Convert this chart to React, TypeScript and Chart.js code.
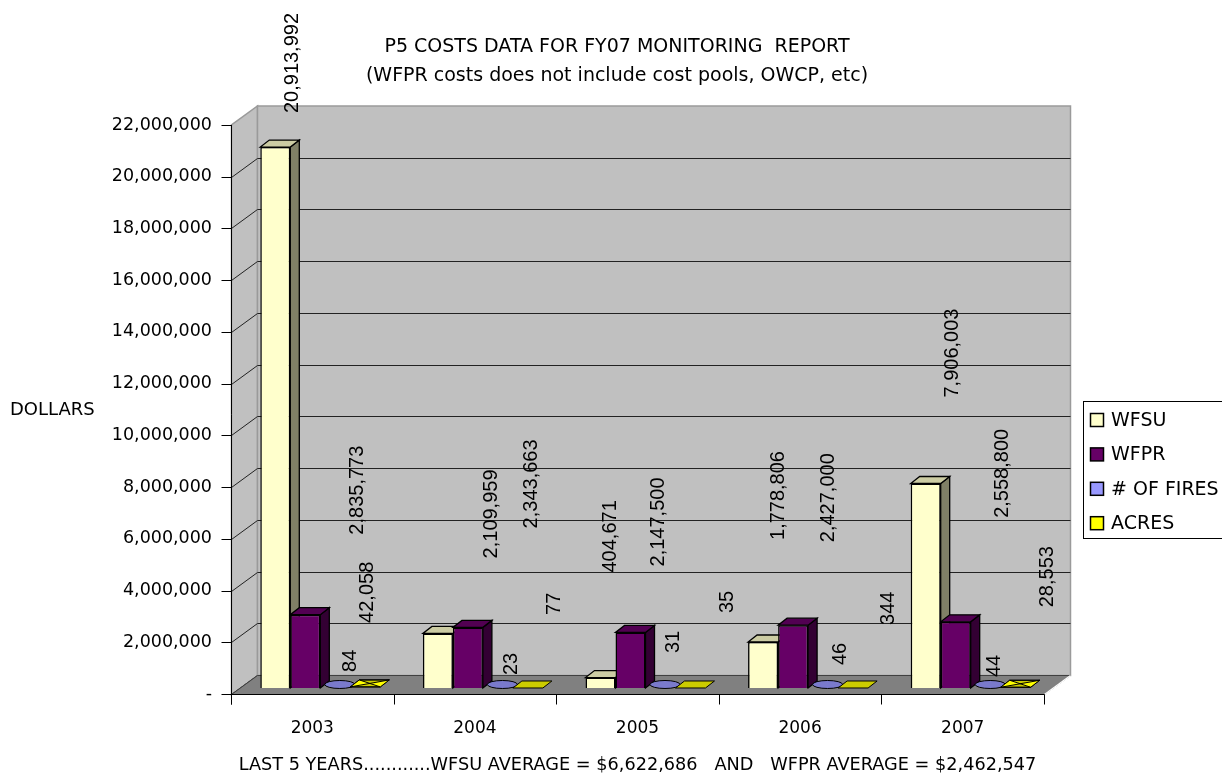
import React, { useEffect, useRef } from 'react';
import { Chart, registerables } from 'chart.js';

Chart.register(...registerables);

// ---- data ----
const years = ['2003', '2004', '2005', '2006', '2007'];
const wfsuCosts = [20913992, 2109959, 404671, 1778806, 7906003];
const wfprCosts = [2835773, 2343663, 2147500, 2427000, 2558800];
const fireCounts = [84, 23, 31, 46, 44];
const acresBurned = [42058, 77, 35, 344, 28553];
const seriesNames = ['WFSU', 'WFPR', '# OF FIRES', 'ACRES'];
const dollarMax = 22000000;
const dollarStep = 2000000;

const titleLines = [
  'P5 COSTS DATA FOR FY07 MONITORING  REPORT',
  '(WFPR costs does not include cost pools, OWCP, etc)',
];
const footerText =
  'LAST 5 YEARS............WFSU AVERAGE = $6,622,686   AND   WFPR AVERAGE = $2,462,547';
const valueAxisName = 'DOLLARS';

// ---- styling ----
const FRONT = ['#FFFFCC', '#660066', '#9999FF', '#FFFF00'];
const TOP = ['#CCCCA3', '#520052', '#7A7ACC', '#CCCC00'];
const SIDE = ['#808066', '#330033', '#4D4D80', '#808000'];
const WALL = '#C0C0C0';
const FLOOR = '#808080';
const CASUAL = '"DejaVu Sans", Verdana, sans-serif';
const VALUE_FONT = '20px "Liberation Sans", Arial, sans-serif';

// oblique projection offsets
const WALL_DEPTH = { dx: 26, dy: -19 };
const BAR_PLANE = { dx: 8, dy: -6 };
const BAR_DEPTH = { dx: 9, dy: -7 };

// where each value label sits relative to the top centre of its bar
const labelNudge = [
  [[17, -34], [54, -75], [10, -105], [15, -102], [27, -86]],
  [[52, -80], [64, -99], [28, -66], [35, -83], [47, -104]],
  [[15, -16], [14, -13], [13, -35], [17, -23], [9, -11]],
  [[2, -64], [27, -73], [37, -75], [35, -63], [32, -80]],
];

type Pt = [number, number];

function poly(ctx: CanvasRenderingContext2D, pts: Pt[], fill?: string, stroke?: string, lw = 1) {
  ctx.beginPath();
  pts.forEach(([px, py], i) => (i === 0 ? ctx.moveTo(px, py) : ctx.lineTo(px, py)));
  ctx.closePath();
  if (fill) {
    ctx.fillStyle = fill;
    ctx.fill();
  }
  if (stroke) {
    ctx.strokeStyle = stroke;
    ctx.lineWidth = lw;
    ctx.stroke();
  }
}

function seg(ctx: CanvasRenderingContext2D, x1: number, y1: number, x2: number, y2: number, color: string, lw = 1) {
  ctx.beginPath();
  ctx.moveTo(x1, y1);
  ctx.lineTo(x2, y2);
  ctx.strokeStyle = color;
  ctx.lineWidth = lw;
  ctx.stroke();
}

const barProps = (el: any) => el.getProps(['x', 'y', 'base', 'width'], true);

const excel3d = {
  id: 'excel3d',
  beforeDatasetsDraw(chart: any) {
    const { ctx, chartArea: a, scales } = chart;
    const ys = scales.y;
    const xs = scales.x;
    const { dx, dy } = WALL_DEPTH;
    const L = Math.round(a.left) + 0.5;
    const R = Math.round(a.right) + 0.5;
    const T = a.top;
    const B = Math.round(a.bottom) + 0.5;

    ctx.save();
    // walls
    poly(ctx, [[L, T], [L + dx, T + dy], [L + dx, B + dy], [L, B]], WALL, '#9a9a9a', 1.5);
    poly(ctx, [[L + dx, T + dy], [R + dx, T + dy], [R + dx, B + dy], [L + dx, B + dy]], WALL, '#9a9a9a', 1.5);

    // gridlines on back and side walls, tick marks on the front axis
    ys.ticks.forEach((t: any) => {
      const py = Math.round(ys.getPixelForValue(t.value)) + 0.5;
      seg(ctx, L - 10, py, L, py, '#000');
      if (t.value >= dollarMax) return;
      if (t.value > 0) seg(ctx, L + dx, py + dy, R + dx, py + dy, '#222');
      seg(ctx, L, py, L + dx, py + dy, '#222');
    });

    // floor
    poly(ctx, [[L, B], [R, B], [R + dx, B + dy], [L + dx, B + dy]], FLOOR, '#404040', 1);
    seg(ctx, R, B, R + dx, B + dy, '#ffffff', 1.5);

    // front axes
    seg(ctx, L, T, L, B + 10, '#000');
    seg(ctx, L, B, R, B, '#000');
    const step = xs.getPixelForValue(1) - xs.getPixelForValue(0);
    for (let i = 0; i <= years.length; i++) {
      const bx = Math.round(xs.getPixelForValue(0) - step / 2 + step * i) + 0.5;
      seg(ctx, bx, B, bx, B + 10, '#000');
    }
    ctx.restore();

    // bars live a little behind the front plane
    ctx.save();
    ctx.translate(BAR_PLANE.dx, BAR_PLANE.dy);
    const n = years.length;
    for (let i = 0; i < n; i++) {
      for (let s = 0; s < 2; s++) {
        const el = chart.getDatasetMeta(s).data[i];
        if (!el) continue;
        const { x, y, base, width } = barProps(el);
        const l = x - width / 2;
        const r = x + width / 2;
        const { dx: bx, dy: by } = BAR_DEPTH;
        poly(ctx, [[r, y], [r + bx, y + by], [r + bx, base + by], [r, base]], SIDE[s], '#000', 1.3);
        poly(ctx, [[l, y], [r, y], [r + bx, y + by], [l + bx, y + by]], TOP[s], '#000', 1.3);
      }
    }
  },
  afterDatasetsDraw(chart: any) {
    const { ctx } = chart;
    const { dx: bx, dy: by } = BAR_DEPTH;
    // fire counts: flat cylinders seen from above
    chart.getDatasetMeta(2).data.forEach((el: any) => {
      const { x, y, width } = barProps(el);
      ctx.beginPath();
      ctx.ellipse(x + bx / 2, y + by / 2, width / 2, Math.abs(by) / 2 + 0.5, 0, 0, Math.PI * 2);
      ctx.fillStyle = TOP[2];
      ctx.fill();
      ctx.strokeStyle = '#000';
      ctx.lineWidth = 1;
      ctx.stroke();
    });
    // acres: flat boxes
    chart.getDatasetMeta(3).data.forEach((el: any) => {
      const { x, y, base, width } = barProps(el);
      const l = x - width / 2;
      const r = x + width / 2;
      const A: Pt = [l, y];
      const Bp: Pt = [r, y];
      const C: Pt = [r + bx, y + by];
      const D: Pt = [l + bx, y + by];
      poly(ctx, [A, Bp, C, D], TOP[3], '#000', 1);
      if (base - y >= 0.5) {
        const O: Pt = [(l + r + bx) / 2, y + by / 2];
        poly(ctx, [A, D, O], FRONT[3]);
        poly(ctx, [Bp, C, O], FRONT[3]);
        seg(ctx, A[0], A[1], C[0], C[1], '#000');
        seg(ctx, Bp[0], Bp[1], D[0], D[1], '#000');
        poly(ctx, [A, Bp, C, D], undefined, '#000', 1);
      }
    });
    ctx.restore();

    // vertical value labels
    ctx.save();
    ctx.font = VALUE_FONT;
    ctx.fillStyle = '#000';
    ctx.textAlign = 'left';
    ctx.textBaseline = 'middle';
    chart.data.datasets.forEach((ds: any, s: number) => {
      chart.getDatasetMeta(s).data.forEach((el: any, i: number) => {
        const { x, y } = barProps(el);
        const [nx, ny] = labelNudge[s][i];
        ctx.save();
        ctx.translate(x + BAR_PLANE.dx + nx, y + BAR_PLANE.dy + ny);
        ctx.rotate(-Math.PI / 2);
        ctx.fillText(Number(ds.data[i]).toLocaleString('en-US'), 0, 0);
        ctx.restore();
      });
    });
    ctx.restore();
  },
  afterDraw(chart: any) {
    const { ctx } = chart;
    ctx.save();
    // value axis name
    ctx.font = `18px ${CASUAL}`;
    ctx.fillStyle = '#000';
    ctx.textAlign = 'left';
    ctx.textBaseline = 'middle';
    ctx.fillText(valueAxisName, 10, 410);

    // legend
    const lx = chart.width - 139;
    const ly = 401;
    ctx.fillStyle = '#fff';
    ctx.fillRect(lx + 0.5, ly + 0.5, 160, 137);
    ctx.strokeStyle = '#000';
    ctx.lineWidth = 1;
    ctx.strokeRect(lx + 0.5, ly + 0.5, 160, 137);
    ctx.font = `19px ${CASUAL}`;
    chart.data.datasets.forEach((ds: any, k: number) => {
      const cy = ly + 19 + k * 34.4;
      ctx.fillStyle = FRONT[k];
      ctx.fillRect(lx + 7.5, cy - 6.5, 13, 13);
      ctx.strokeStyle = '#000';
      ctx.lineWidth = 1.5;
      ctx.strokeRect(lx + 7.5, cy - 6.5, 13, 13);
      ctx.fillStyle = '#000';
      ctx.fillText(ds.label, lx + 28, cy + 1);
    });
    ctx.restore();
  },
};

export default function App() {
  const canvasRef = useRef<HTMLCanvasElement>(null);

  useEffect(() => {
    const canvas = canvasRef.current;
    if (!canvas) return;
    const values = [wfsuCosts, wfprCosts, fireCounts, acresBurned];
    const chart = new Chart(canvas, {
      type: 'bar',
      data: {
        labels: years,
        datasets: seriesNames.map((name, s) => ({
          label: name,
          data: values[s],
          yAxisID: 'y',
          xAxisID: 'x',
          backgroundColor: s < 2 ? FRONT[s] : 'rgba(0,0,0,0)',
          borderColor: '#000',
          borderWidth: s < 2 ? 1.5 : 0,
          categoryPercentage: 0.738,
          barPercentage: 1,
          clip: false as any,
        })),
      },
      options: {
        animation: false,
        responsive: false,
        devicePixelRatio: 1,
        events: [],
        layout: { padding: { left: 12, right: 0, top: 0, bottom: 0 } },
        plugins: {
          legend: { display: false },
          tooltip: { enabled: false },
          title: {
            display: true,
            text: titleLines,
            color: '#000',
            font: { family: CASUAL, size: 19, weight: 'normal', lineHeight: 1.52 },
            padding: { top: 32.5, bottom: 34.7 },
          },
        },
        scales: {
          x: {
            type: 'category',
            offset: true,
            grid: { display: false, drawTicks: false },
            border: { display: false },
            ticks: { color: '#000', font: { family: CASUAL, size: 17 }, padding: 24 },
            title: {
              display: true,
              text: footerText,
              color: '#000',
              font: { family: CASUAL, size: 17.7 },
              padding: { top: 0, bottom: 0 },
            },
            afterFit(s: any) {
              s.height = 82;
            },
          },
          y: {
            type: 'linear',
            position: 'left',
            min: 0,
            max: dollarMax,
            grid: { display: false, drawTicks: false },
            border: { display: false },
            ticks: {
              stepSize: dollarStep,
              color: '#000',
              font: { family: CASUAL, size: 17.5 },
              padding: 19,
              callback: (v: any) => (Number(v) === 0 ? '-' : Number(v).toLocaleString('en-US')),
            },
            afterFit(s: any) {
              s.width = 219;
            },
          },
          legendSpace: {
            type: 'linear',
            position: 'right',
            display: true,
            grid: { display: false, drawTicks: false },
            border: { display: false },
            ticks: { display: false },
            afterFit(s: any) {
              s.width = 178;
            },
          },
        },
      } as any,
      plugins: [excel3d],
    });
    return () => chart.destroy();
  }, []);

  return (
    <div style={{ position: 'fixed', left: 0, top: 0, width: 1222, height: 776, background: '#fff' }}>
      <canvas ref={canvasRef} width={1222} height={776} style={{ display: 'block' }} />
    </div>
  );
}
